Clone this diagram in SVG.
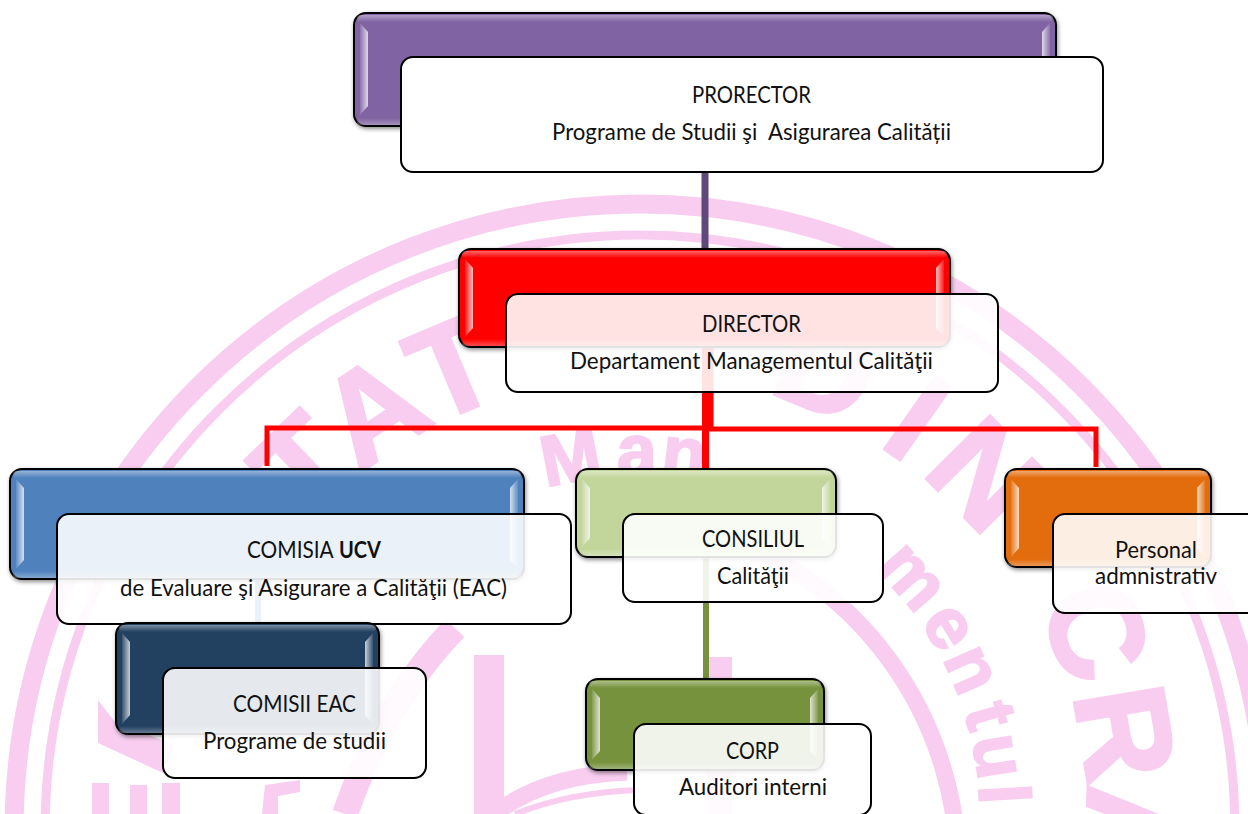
<svg xmlns="http://www.w3.org/2000/svg" width="1248" height="814" viewBox="0 0 1248 814">
<style>
.wm{font-family:"Liberation Sans",Arial,sans-serif;font-weight:700;fill:#F8CDEF;stroke:#F8CDEF;text-anchor:middle}
.big{font-size:130px;stroke-width:3px}
.mid{font-size:72px;stroke-width:2px}
.ring{fill:none;stroke:#F8CDEF}
.wf{fill:#F8CDEF}
.box{stroke:#000;stroke-width:2}
.cap{fill:#fff;fill-opacity:.885;stroke:#000;stroke-width:2}
.t{font-family:Lato,"Liberation Sans",sans-serif;font-size:23px;fill:#111;white-space:pre}
.bl{fill:url(#barL)}
.br{fill:url(#barR)}
.et{fill:url(#edgeT)}
.eb{fill:url(#edgeB)}
.c{fill:none;stroke-linejoin:miter}
</style>
<defs>
<linearGradient id="barL" x1="0" x2="1" y1="0" y2="0"><stop offset="0" stop-color="#fff" stop-opacity=".1"/><stop offset="1" stop-color="#fff" stop-opacity=".75"/></linearGradient>
<linearGradient id="barR" x1="1" x2="0" y1="0" y2="0"><stop offset="0" stop-color="#fff" stop-opacity=".1"/><stop offset="1" stop-color="#fff" stop-opacity=".75"/></linearGradient>
<linearGradient id="edgeT" x1="0" x2="0" y1="0" y2="1"><stop offset="0" stop-color="#fff" stop-opacity=".4"/><stop offset="1" stop-color="#fff" stop-opacity="0"/></linearGradient>
<linearGradient id="edgeB" x1="0" x2="0" y1="1" y2="0"><stop offset="0" stop-color="#fff" stop-opacity=".3"/><stop offset="1" stop-color="#fff" stop-opacity="0"/></linearGradient>
<filter id="sh" x="-5%" y="-5%" width="110%" height="115%"><feDropShadow dx="1" dy="2" stdDeviation="2" flood-color="#000" flood-opacity=".45"/></filter>
<filter id="soft" filterUnits="userSpaceOnUse" x="0" y="0" width="1248" height="814"><feGaussianBlur stdDeviation=".6"/></filter>
</defs>
<rect width="1248" height="814" fill="#fff"/>
<g id="watermark" filter="url(#soft)">
<circle class="ring" cx="640" cy="830" r="626" stroke-width="19"/>
<circle class="ring" cx="640" cy="830" r="595" stroke-width="9"/>
<path class="ring" stroke-width="17" d="M700 527A358 358 0 0 1 958 880"/>
<path class="ring" stroke-width="26" d="M455 628Q385 700 345 814"/>
<path class="ring" stroke-width="17" d="M494 814Q545 775 627 772"/>
<path class="ring" stroke-width="6" d="M515 814Q570 792 640 790"/>
<rect class="wf" x="474" y="655" width="30" height="159"/>
<rect class="wf" x="707" y="657" width="25" height="157"/>
<path class="wf" d="M98 700L98 743L163 773L175 745L115 722Z"/>
<rect class="wf" x="92" y="783" width="17" height="31"/>
<rect class="wf" x="130" y="785" width="17" height="29"/>
<rect class="wf" x="162" y="783" width="18" height="31"/>
<path class="wf" d="M262 814L265 785L300 780L300 792L278 796L278 814Z"/>
<text class="wm big" x="640" y="375" transform="rotate(-44 640 815)">T</text>
<text class="wm big" x="640" y="375" transform="rotate(-33.4 640 815)">A</text>
<text class="wm big" x="640" y="375" transform="rotate(-22.8 640 815)">T</text>
<text class="wm big" x="640" y="375" transform="rotate(22.7 640 815)">D</text>
<text class="wm big" x="640" y="375" transform="rotate(35 640 815)">I</text>
<text class="wm big" x="640" y="375" transform="rotate(45.4 640 815)">N</text>
<text class="wm big" x="640" y="368" transform="rotate(68 640 815)">C</text>
<text class="wm big" x="640" y="368" transform="rotate(80.4 640 815)">R</text>
<text class="wm big" x="640" y="368" transform="rotate(92 640 815)">A</text>
<text class="wm mid" x="640" y="475" transform="rotate(-11 640 815)">M</text>
<text class="wm mid" x="640" y="475" transform="rotate(-0.5 640 815)">a</text>
<text class="wm mid" x="640" y="475" transform="rotate(7 640 815)">n</text>
<text class="wm mid" x="640" y="475" transform="rotate(48.8 640 815)">m</text>
<text class="wm mid" x="640" y="475" transform="rotate(58.7 640 815)">e</text>
<text class="wm mid" x="640" y="475" transform="rotate(66.3 640 815)">n</text>
<text class="wm mid" x="640" y="475" transform="rotate(74.1 640 815)">t</text>
<text class="wm mid" x="640" y="475" transform="rotate(80.7 640 815)">u</text>
<text class="wm mid" x="640" y="475" transform="rotate(86.7 640 815)">l</text>
</g>
<g id="connectors">
<path class="c" stroke="#5F497A" stroke-width="7" d="M705 126V249"/>
<path class="c" stroke="#FF0000" stroke-width="5" d="M705 347V428H267V466"/>
<path class="c" stroke="#FF0000" stroke-width="5" d="M711 347V429H1096V467"/>
<path class="c" stroke="#FF0000" stroke-width="7" d="M705.500 347V469"/>
<path class="c" stroke="#4F81BD" stroke-width="6" d="M258 579V623"/>
<path class="c" stroke="#76923C" stroke-width="6" d="M706 557V679"/>
</g>
<g id="node-prorector">
<rect class="box" x="354" y="13" width="702" height="113" rx="12" fill="#8064A2" filter="url(#sh)"/>
<rect class="et" x="357" y="15" width="696" height="7" rx="4"/><rect class="eb" x="357" y="118" width="696" height="7" rx="4"/>
<path class="bl" d="M360 23L368 32V106L360 115Z"/><path class="br" d="M1050 23L1042 32V106L1050 115Z"/>
<rect x="401" y="57" width="702" height="115" rx="12" fill="#fff" stroke="#000" stroke-width="2"/>
<text class="t" x="692" y="103" textLength="119" lengthAdjust="spacingAndGlyphs">PRORECTOR</text>
<text class="t" x="552" y="140" textLength="399" lengthAdjust="spacingAndGlyphs">Programe de Studii şi  Asigurarea Calității</text>
</g>
<g id="node-director">
<rect class="box" x="459" y="249" width="491" height="98" rx="12" fill="#FF0000" filter="url(#sh)"/>
<rect class="et" x="462" y="251" width="485" height="7" rx="4"/><rect class="eb" x="462" y="339" width="485" height="7" rx="4"/>
<path class="bl" d="M465 259L473 268V328L465 337Z"/><path class="br" d="M944 259L936 268V328L944 337Z"/>
<rect class="cap" x="506" y="294" width="492" height="98" rx="12"/>
<text class="t" x="702" y="332" textLength="99" lengthAdjust="spacingAndGlyphs">DIRECTOR</text>
<text class="t" x="570" y="369" textLength="363" lengthAdjust="spacingAndGlyphs">Departament Managementul Calităţii</text>
</g>
<g id="node-comisia">
<rect class="box" x="10" y="469" width="514" height="110" rx="12" fill="#4F81BD" filter="url(#sh)"/>
<rect class="et" x="13" y="471" width="508" height="7" rx="4"/><rect class="eb" x="13" y="571" width="508" height="7" rx="4"/>
<path class="bl" d="M16 479L24 488V560L16 569Z"/><path class="br" d="M518 479L510 488V560L518 569Z"/>
<rect class="cap" x="57" y="514" width="514" height="110" rx="12"/>
<text class="t" y="558"><tspan x="247" textLength="86" lengthAdjust="spacingAndGlyphs">COMISIA</tspan> <tspan x="339" font-weight="700" textLength="42" lengthAdjust="spacingAndGlyphs">UCV</tspan></text>
<text class="t" x="120" y="596" textLength="387" lengthAdjust="spacingAndGlyphs">de Evaluare şi Asigurare a Calităţii (EAC)</text>
</g>
<g id="node-comisii-eac">
<rect class="box" x="116" y="623" width="263" height="111" rx="12" fill="#244061" filter="url(#sh)"/>
<rect class="et" x="119" y="625" width="257" height="7" rx="4"/><rect class="eb" x="119" y="726" width="257" height="7" rx="4"/>
<path class="bl" d="M122 633L130 642V715L122 724Z"/><path class="br" d="M373 633L365 642V715L373 724Z"/>
<rect class="cap" x="163" y="668" width="263" height="110" rx="12"/>
<text class="t" x="233" y="712" textLength="123" lengthAdjust="spacingAndGlyphs">COMISII EAC</text>
<text class="t" x="203" y="749" textLength="183" lengthAdjust="spacingAndGlyphs">Programe de studii</text>
</g>
<g id="node-consiliul">
<rect class="box" x="576" y="469" width="260" height="88" rx="12" fill="#C2D69B" filter="url(#sh)"/>
<rect class="et" x="579" y="471" width="254" height="7" rx="4"/><rect class="eb" x="579" y="549" width="254" height="7" rx="4"/>
<path class="bl" d="M582 479L590 488V538L582 547Z"/><path class="br" d="M830 479L822 488V538L830 547Z"/>
<rect class="cap" x="623" y="514" width="260" height="88" rx="12"/>
<text class="t" x="702" y="547" textLength="102" lengthAdjust="spacingAndGlyphs">CONSILIUL</text>
<text class="t" x="717" y="584" textLength="72" lengthAdjust="spacingAndGlyphs">Calităţii</text>
</g>
<g id="node-corp">
<rect class="box" x="586" y="679" width="238" height="91" rx="12" fill="#76923C" filter="url(#sh)"/>
<rect class="et" x="589" y="681" width="232" height="7" rx="4"/><rect class="eb" x="589" y="762" width="232" height="7" rx="4"/>
<path class="bl" d="M592 689L600 698V751L592 760Z"/><path class="br" d="M818 689L810 698V751L818 760Z"/>
<rect class="cap" x="634" y="724" width="237" height="91" rx="12"/>
<text class="t" x="726" y="759" textLength="53" lengthAdjust="spacingAndGlyphs">CORP</text>
<text class="t" x="679" y="795" textLength="148" lengthAdjust="spacingAndGlyphs">Auditori interni</text>
</g>
<g id="node-personal">
<rect class="box" x="1005" y="469" width="206" height="98" rx="12" fill="#E36C0A" filter="url(#sh)"/>
<rect class="et" x="1008" y="471" width="200" height="7" rx="4"/><rect class="eb" x="1008" y="559" width="200" height="7" rx="4"/>
<path class="bl" d="M1011 479L1019 488V548L1011 557Z"/><path class="br" d="M1205 479L1197 488V548L1205 557Z"/>
<rect class="cap" x="1053" y="514" width="207" height="99" rx="12"/>
<text class="t" x="1115" y="558" textLength="82" lengthAdjust="spacingAndGlyphs">Personal</text>
<text class="t" x="1095" y="584" textLength="122" lengthAdjust="spacingAndGlyphs">admnistrativ</text>
</g>
</svg>
